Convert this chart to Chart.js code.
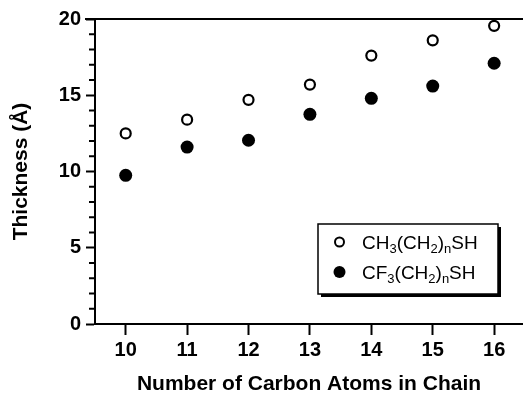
<!DOCTYPE html>
<html>
<head>
<meta charset="utf-8">
<script src="https://cdn.jsdelivr.net/npm/chart.js@4"></script>
<style>
  html, body { margin: 0; padding: 0; background: #fff; }
  #thickness-chart { display: block; }
</style>
</head>
<body>
<canvas id="thickness-chart" width="523" height="393"></canvas>
<script>
'use strict';

const carbonAtoms = [10, 11, 12, 13, 14, 15, 16];
const ch3Thickness = [12.5, 13.4, 14.7, 15.7, 17.6, 18.6, 19.55];
const cf3Thickness = [9.75, 11.6, 12.05, 13.75, 14.8, 15.6, 17.1];
const xTickValues = [10, 11, 12, 13, 14, 15, 16];
const yMajorTicks = [0, 5, 10, 15, 20];
const yMinorTicks = [1, 2, 3, 4, 6, 7, 8, 9, 11, 12, 13, 14, 16, 17, 18, 19];
// '_' marks the next character as a subscript
const seriesLabels = ['CH_3(CH_2)_nSH', 'CF_3(CH_2)_nSH'];

const chartContext = document.querySelector('#thickness-chart').getContext('2d');
const fontFamily = '"Liberation Sans", Arial, Helvetica, sans-serif';

function toPoints(values) {
  return carbonAtoms.map((n, i) => ({ x: n, y: values[i] }));
}

function drawRichLabel(ctx, text, x, y) {
  let cursor = x;
  for (let i = 0; i < text.length; i++) {
    if (text[i] === '_') {
      i++;
      ctx.font = '13px ' + fontFamily;
      ctx.fillText(text[i], cursor, y + 4);
      cursor += ctx.measureText(text[i]).width;
    } else {
      ctx.font = '19px ' + fontFamily;
      ctx.fillText(text[i], cursor, y);
      cursor += ctx.measureText(text[i]).width;
    }
  }
}

const framePlugin = {
  id: 'frame',
  afterDraw(chart) {
    const ctx = chart.ctx;
    const area = chart.chartArea;
    const yScale = chart.scales.y;
    ctx.save();
    ctx.strokeStyle = '#000';

    // top border
    ctx.lineWidth = 2;
    ctx.beginPath();
    ctx.moveTo(area.left - 10, area.top);
    ctx.lineTo(area.right, area.top);
    ctx.stroke();

    // minor ticks on y axis
    yMinorTicks.forEach((v) => {
      const py = yScale.getPixelForValue(v);
      ctx.beginPath();
      ctx.moveTo(area.left - 6, py);
      ctx.lineTo(area.left, py);
      ctx.stroke();
    });

    // legend box with shadow
    const bx = 318, by = 224, bw = 180, bh = 70;
    ctx.fillStyle = '#000';
    ctx.fillRect(bx + 3, by + 3, bw, bh);
    ctx.fillStyle = '#fff';
    ctx.fillRect(bx, by, bw, bh);
    ctx.lineWidth = 1.5;
    ctx.strokeRect(bx, by, bw, bh);

    const rows = [242, 272];
    rows.forEach((ry, i) => {
      ctx.beginPath();
      if (i === 0) {
        ctx.lineWidth = 2;
        ctx.arc(339.5, ry, 4.5, 0, Math.PI * 2);
        ctx.fillStyle = '#fff';
        ctx.fill();
        ctx.stroke();
      } else {
        ctx.arc(339.5, ry, 6, 0, Math.PI * 2);
        ctx.fillStyle = '#000';
        ctx.fill();
      }
      ctx.fillStyle = '#000';
      ctx.textBaseline = 'alphabetic';
      ctx.textAlign = 'left';
      drawRichLabel(ctx, seriesLabels[i], 362, ry + 6.5);
    });
    ctx.restore();
  }
};

const chartConfig = {
  type: 'scatter',
  data: {
    datasets: [
      {
        label: seriesLabels[0].replace(/_/g, ''),
        data: toPoints(ch3Thickness),
        pointStyle: 'circle',
        pointRadius: 5,
        pointBorderWidth: 2.2,
        pointBorderColor: '#000',
        pointBackgroundColor: '#fff',
      },
      {
        label: seriesLabels[1].replace(/_/g, ''),
        data: toPoints(cf3Thickness),
        pointStyle: 'circle',
        pointRadius: 6.5,
        pointBorderWidth: 0,
        pointBorderColor: '#000',
        pointBackgroundColor: '#000',
      }
    ]
  },
  options: {
    responsive: false,
    animation: false,
    devicePixelRatio: 1,
    layout: {
      autoPadding: false,
      padding: { top: 19, right: 0, left: 0, bottom: 0 }
    },
    plugins: {
      legend: { display: false },
      tooltip: { enabled: false },
    },
    scales: {
      x: {
        type: 'linear',
        min: 9.5,
        max: 16.47,
        afterBuildTicks: (scale) => {
          scale.ticks = xTickValues.map((v) => ({ value: v }));
        },
        afterFit: (scale) => {
          scale.height = 69;
          scale.paddingLeft = 0;
          scale.paddingRight = 0;
        },
        grid: {
          drawOnChartArea: false,
          tickLength: 11,
          tickWidth: 2,
          tickColor: '#000',
        },
        border: { display: true, color: '#000', width: 2 },
        ticks: {
          color: '#000',
          padding: 3,
          font: { family: fontFamily, size: 20, weight: 'bold' },
        },
        title: {
          display: true,
          text: 'Number of Carbon Atoms in Chain',
          color: '#000',
          padding: { top: 0, bottom: -4 },
          font: { family: fontFamily, size: 21, weight: 'bold' },
        },
      },
      y: {
        min: 0,
        max: 20,
        afterBuildTicks: (scale) => {
          scale.ticks = yMajorTicks.map((v) => ({ value: v }));
        },
        afterFit: (scale) => {
          scale.width = 95;
        },
        grid: {
          drawOnChartArea: false,
          tickLength: 9,
          tickWidth: 2,
          tickColor: '#000',
        },
        border: { display: true, color: '#000', width: 2 },
        ticks: {
          color: '#000',
          padding: 5,
          font: { family: fontFamily, size: 20, weight: 'bold' },
        },
        title: {
          display: true,
          text: 'Thickness (Å)',
          color: '#000',
          padding: { top: 9, bottom: 0 },
          font: { family: fontFamily, size: 21, weight: 'bold' },
        },
      },
    },
  },
  plugins: [framePlugin],
};

const chart = new Chart(chartContext, chartConfig);
</script>
</body>
</html>
